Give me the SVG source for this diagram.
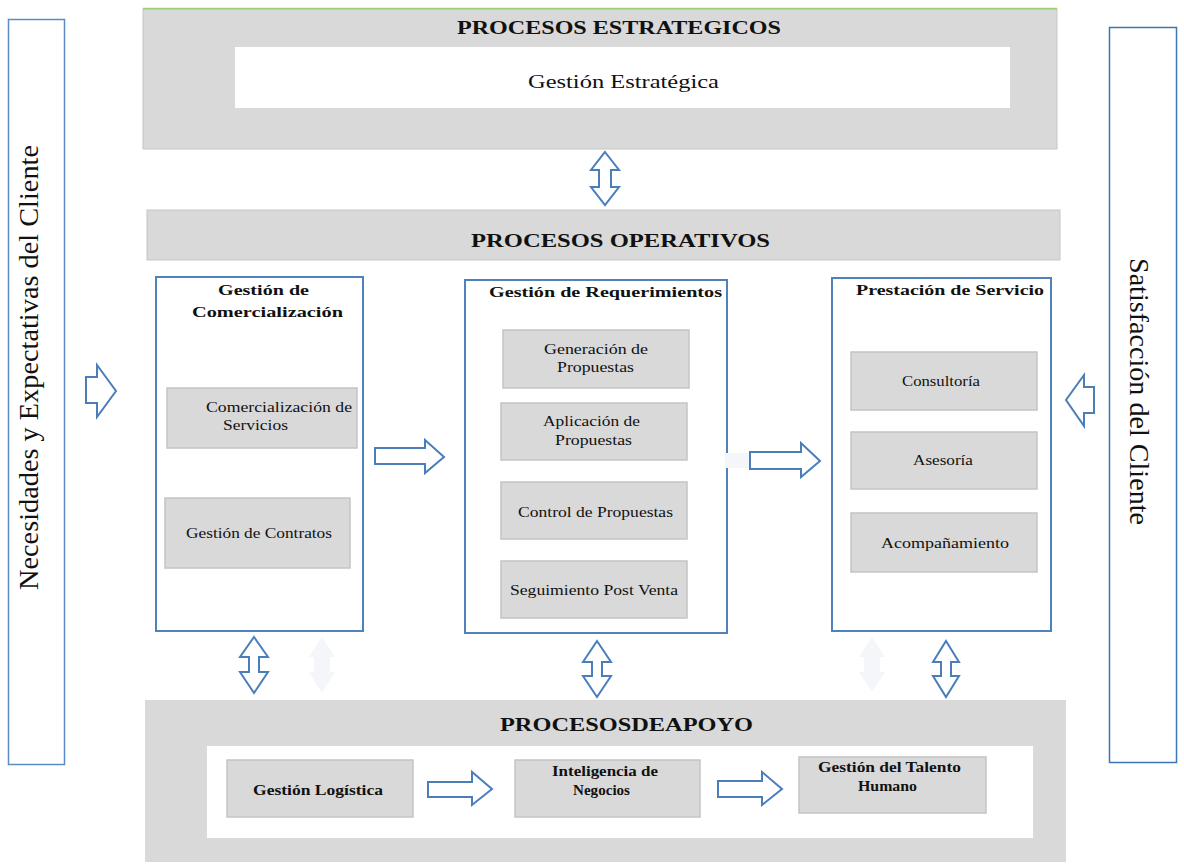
<svg xmlns="http://www.w3.org/2000/svg" width="1184" height="865" viewBox="0 0 1184 865">
<style>
.band{fill:#d9d9d9;stroke:#c6c6c6;stroke-width:1}
.white{fill:#ffffff}
.frame{fill:#ffffff;stroke:#4f81bd;stroke-width:2}
.item{fill:#d9d9d9;stroke:#c4c4c4;stroke-width:1.5}
.arrow{fill:#ffffff;stroke:#4a7ebb;stroke-width:2;stroke-linejoin:miter}
.ghost{fill:#f4f6fa;stroke:none}
text{font-family:"Liberation Serif","Times New Roman",serif;fill:#111}
.h{font-weight:bold;font-size:18px;text-anchor:start}
.t{font-size:14.5px}
.b{font-size:15px;font-weight:bold}
.side{font-size:28px}
</style>

<g id="estrategicos">
<rect class="band" x="143" y="9" width="914" height="140"/>
<line x1="143" y1="8.5" x2="1057" y2="8.5" stroke="#9bcf6f" stroke-width="1.5"/>
<text class="h" x="457" y="34" textLength="324" lengthAdjust="spacingAndGlyphs">PROCESOS ESTRATEGICOS</text>
<rect class="white" x="235" y="47" width="775" height="61"/>
<text x="528" y="88" font-size="19" textLength="191" lengthAdjust="spacingAndGlyphs">Gestión Estratégica</text>
</g>

<g id="necesidades">
<rect x="8.5" y="19.5" width="56" height="745" fill="#fff" stroke="#5b8cc6" stroke-width="1.5"/>
<text class="side" transform="translate(38,590) rotate(-90)" textLength="445" lengthAdjust="spacingAndGlyphs">Necesidades y Expectativas del Cliente</text>
</g>

<g id="satisfaccion">
<rect x="1109.5" y="27.5" width="67" height="735" fill="#fff" stroke="#3d74b5" stroke-width="1.5"/>
<text class="side" transform="translate(1130,258) rotate(90)" textLength="267" lengthAdjust="spacingAndGlyphs">Satisfacción del Cliente</text>
</g>

<g id="operativos">
<rect class="band" x="147" y="210" width="913" height="50"/>
<text class="h" x="471" y="247" textLength="299" lengthAdjust="spacingAndGlyphs">PROCESOS OPERATIVOS</text>
</g>

<g id="comercializacion">
<rect class="frame" x="156" y="277" width="207" height="354"/>
<text class="b" x="218" y="295" textLength="91" lengthAdjust="spacingAndGlyphs">Gestión de</text>
<text class="b" x="192" y="317" textLength="151" lengthAdjust="spacingAndGlyphs">Comercialización</text>
<rect class="item" x="167" y="388" width="190" height="60"/>
<text class="t" x="206" y="412" textLength="146" lengthAdjust="spacingAndGlyphs">Comercialización de</text>
<text class="t" x="223" y="430" textLength="65" lengthAdjust="spacingAndGlyphs">Servicios</text>
<rect class="item" x="165" y="498" width="185" height="70"/>
<text class="t" x="186" y="538" textLength="146" lengthAdjust="spacingAndGlyphs">Gestión de Contratos</text>
</g>

<g id="requerimientos">
<rect class="frame" x="465" y="280" width="262" height="353"/>
<text class="b" x="489" y="297" textLength="233" lengthAdjust="spacingAndGlyphs">Gestión de Requerimientos</text>
<rect class="item" x="503" y="330" width="186" height="58"/>
<text class="t" x="544" y="354" textLength="104" lengthAdjust="spacingAndGlyphs">Generación de</text>
<text class="t" x="557" y="372" textLength="77" lengthAdjust="spacingAndGlyphs">Propuestas</text>
<rect class="item" x="501" y="403" width="186" height="57"/>
<text class="t" x="543" y="426" textLength="97" lengthAdjust="spacingAndGlyphs">Aplicación de</text>
<text class="t" x="555" y="445" textLength="77" lengthAdjust="spacingAndGlyphs">Propuestas</text>
<rect class="item" x="501" y="482" width="186" height="57"/>
<text class="t" x="518" y="517" textLength="155" lengthAdjust="spacingAndGlyphs">Control de Propuestas</text>
<rect class="item" x="501" y="561" width="186" height="57"/>
<text class="t" x="510" y="595" textLength="168" lengthAdjust="spacingAndGlyphs">Seguimiento Post Venta</text>
</g>

<g id="prestacion">
<rect class="frame" x="832" y="278" width="219" height="353"/>
<text class="b" x="856" y="295" textLength="188" lengthAdjust="spacingAndGlyphs">Prestación de Servicio</text>
<rect class="item" x="851" y="352" width="186" height="58"/>
<text class="t" x="902" y="386" textLength="78" lengthAdjust="spacingAndGlyphs">Consultoría</text>
<rect class="item" x="851" y="432" width="186" height="57"/>
<text class="t" x="913" y="465" textLength="60" lengthAdjust="spacingAndGlyphs">Asesoría</text>
<rect class="item" x="851" y="513" width="186" height="59"/>
<text class="t" x="881" y="548" textLength="128" lengthAdjust="spacingAndGlyphs">Acompañamiento</text>
</g>

<g id="apoyo">
<rect x="145" y="700" width="921" height="162" fill="#d9d9d9"/>
<text class="h" x="500" y="731" textLength="253" lengthAdjust="spacingAndGlyphs">PROCESOSDEAPOYO</text>
<rect class="white" x="207" y="746" width="826" height="92"/>
<rect class="item" x="227" y="760" width="186" height="57"/>
<text class="b" x="253" y="795" textLength="130" lengthAdjust="spacingAndGlyphs">Gestión Logística</text>
<rect class="item" x="515" y="760" width="185" height="57"/>
<text class="b" x="552" y="776" textLength="106" lengthAdjust="spacingAndGlyphs">Inteligencia de</text>
<text class="b" x="573" y="795" textLength="57" lengthAdjust="spacingAndGlyphs">Negocios</text>
<rect class="item" x="799" y="757" width="187" height="56"/>
<text class="b" x="818" y="772" textLength="143" lengthAdjust="spacingAndGlyphs">Gestión del Talento</text>
<text class="b" x="858" y="791" textLength="59" lengthAdjust="spacingAndGlyphs">Humano</text>
</g>

<g id="connectors">
<path class="ghost" d="M322,637 L335,657 L330,657 L330,672 L335,672 L322,693 L309,672 L314,672 L314,657 L309,657 Z"/>
<path class="ghost" d="M872,637 L885,657 L880,657 L880,672 L885,672 L872,692 L859,672 L864,672 L864,657 L859,657 Z"/>
<path class="ghost" d="M725,453 L750,453 L750,468 L725,468 Z"/>
<path class="arrow" d="M86,377 L97,377 L97,365 L116,391 L97,417 L97,403 L86,403 Z"/>
<path class="arrow" d="M1094,387 L1084,387 L1084,375 L1066,400 L1084,426 L1084,413 L1094,413 Z"/>
<path class="arrow" d="M375,448 L425,448 L425,440 L444,457 L425,473 L425,464 L375,464 Z"/>
<path class="arrow" d="M750,452 L801,452 L801,443 L820,461 L801,477 L801,469 L750,469 Z"/>
<path class="arrow" d="M428,782 L472,782 L472,772 L492,789 L472,805 L472,797 L428,797 Z"/>
<path class="arrow" d="M718,781 L762,781 L762,772 L782,789 L762,805 L762,797 L718,797 Z"/>
<path class="arrow" d="M605,152 L619,170 L611,170 L611,187 L619,187 L605,205 L591,187 L599,187 L599,170 L591,170 Z"/>
<path class="arrow" d="M254,637 L268,657 L259,657 L259,672 L268,672 L254,693 L240,672 L249,672 L249,657 L240,657 Z"/>
<path class="arrow" d="M597,641 L611,662 L602,662 L602,676 L611,676 L597,697 L583,676 L592,676 L592,662 L583,662 Z"/>
<path class="arrow" d="M946,641 L959,662 L951,662 L951,676 L959,676 L946,697 L933,676 L941,676 L941,662 L933,662 Z"/>
</g>
</svg>
